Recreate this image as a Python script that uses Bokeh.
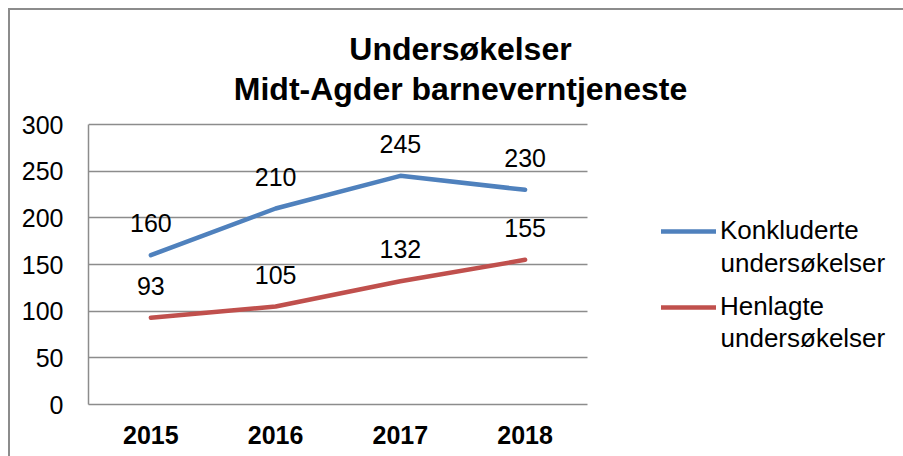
from bokeh.plotting import figure
from bokeh.models import (ColumnDataSource, Legend, LegendItem, Label,
                          LabelSet, FixedTicker, InlineStyleSheet)
from bokeh.core.properties import value
from bokeh.embed import file_html
from bokeh.resources import INLINE

years = ["2015", "2016", "2017", "2018"]
konkluderte = [160, 210, 245, 230]
henlagte = [93, 105, 132, 155]
series_names = ["Konkluderte\nundersøkelser", "Henlagte\nundersøkelser"]
title_lines = ["Undersøkelser", "Midt-Agder barneverntjeneste"]
y_ticks = [0, 50, 100, 150, 200, 250, 300]

BLUE = "#4F81BD"
RED = "#C0504D"
GRID = "#8C8C8C"
FONT = "Liberation Sans"

# layout (pixels)
W, H = 903, 456
PLOT_L, PLOT_R, PLOT_T, PLOT_B = 88, 587, 124, 404
n = len(years)
unit_x = (PLOT_R - PLOT_L) / n
y_max = y_ticks[-1]
unit_y = (PLOT_B - PLOT_T) / y_max


def px_x(px):
    return -0.5 + (px - PLOT_L) / unit_x


def px_y(py):
    return (PLOT_B - py) / unit_y


border_css = InlineStyleSheet(css="""
:host::after {
  content: "";
  position: absolute;
  left: 8px; top: 8px; right: -4px; bottom: -4px;
  border-left: 2px solid #8C8C8C;
  border-top: 2px solid #8C8C8C;
  pointer-events: none;
  z-index: 10;
}
""")

p = figure(width=W, height=H, x_range=(px_x(PLOT_L), px_x(W)),
           y_range=(0, px_y(0)),
           output_backend="svg", toolbar_location=None,
           min_border_left=PLOT_L, min_border_right=0, min_border_top=0,
           min_border_bottom=H - PLOT_B, stylesheets=[border_css])
p.outline_line_color = None
p.background_fill_color = "white"
p.border_fill_color = "white"

xs = list(range(n))
src = ColumnDataSource(dict(x=xs, k=konkluderte, h=henlagte,
                            kl=[str(v) for v in konkluderte],
                            hl=[str(v) for v in henlagte]))

# grid
p.xgrid.grid_line_color = None
p.ygrid.ticker = FixedTicker(ticks=y_ticks)
p.ygrid.grid_line_color = GRID
p.ygrid.grid_line_width = 1.5
try:
    p.ygrid.cross_bounds = (-0.5, n - 0.5)
except Exception:
    p.ygrid.grid_line_color = None
    p.segment(x0=[-0.5] * len(y_ticks), x1=[n - 0.5] * len(y_ticks),
              y0=y_ticks, y1=y_ticks, line_color=GRID, line_width=1.5)

r1 = p.line("x", "k", source=src, line_color=BLUE, line_width=4.5, line_cap="round")
r2 = p.line("x", "h", source=src, line_color=RED, line_width=4.5, line_cap="round")

for col, lab in (("k", "kl"), ("h", "hl")):
    ls = LabelSet(x="x", y=col, text=lab, source=src, y_offset=32,
                  text_align="center", text_baseline="middle",
                  text_font=value(FONT), text_font_size="25px", text_color="black")
    p.add_layout(ls)

# axes
p.yaxis.ticker = FixedTicker(ticks=y_ticks)
p.yaxis.bounds = (0, y_max)
p.yaxis.axis_line_color = GRID
p.yaxis.axis_line_width = 1.5
p.yaxis.major_tick_line_color = None
p.yaxis.minor_tick_line_color = None
p.yaxis.major_tick_out = 0
p.yaxis.major_tick_in = 0
p.yaxis.major_label_standoff = 25
p.yaxis.major_label_text_font = FONT
p.yaxis.major_label_text_font_size = "25px"
p.yaxis.major_label_text_color = "black"

p.xaxis.ticker = FixedTicker(ticks=xs)
p.xaxis.major_label_overrides = {i: y for i, y in enumerate(years)}
p.xaxis.bounds = (-0.5, n - 0.5)
p.xaxis.axis_line_color = GRID
p.xaxis.axis_line_width = 1.5
p.xaxis.major_tick_line_color = None
p.xaxis.minor_tick_line_color = None
p.xaxis.major_label_standoff = 15
p.xaxis.major_label_text_font = FONT
p.xaxis.major_label_text_font_size = "25px"
p.xaxis.major_label_text_font_style = "bold"
p.xaxis.major_label_text_color = "black"

# title
for txt, py in zip(title_lines, (48, 88)):
    p.add_layout(Label(x=px_x(460), y=px_y(py), text=txt, text_align="center",
                       text_baseline="middle", text_font=FONT,
                       text_font_size="32px", text_font_style="bold",
                       text_color="black"))

# legend (first line of each name in the legend, second line beside it)
first_lines = [s.split("\n")[0] for s in series_names]
second_lines = [s.split("\n")[1] for s in series_names]
legend = Legend(items=[LegendItem(label=first_lines[0], renderers=[r1]),
                       LegendItem(label=first_lines[1], renderers=[r2])],
                location=(661 - PLOT_L, PLOT_B - 322), padding=0, margin=0,
                spacing=45, glyph_width=55, glyph_height=30, label_height=30,
                label_standoff=4,
                label_text_font=FONT, label_text_font_size="26px",
                label_text_color="black", border_line_color=None,
                background_fill_alpha=0)
p.add_layout(legend)
for txt, py in zip(second_lines, (262, 337)):
    p.add_layout(Label(x=px_x(720), y=px_y(py), text=txt, text_align="left",
                       text_baseline="middle", text_font=FONT,
                       text_font_size="26px", text_color="black"))

open("out.html", "w").write(file_html(p, INLINE))
